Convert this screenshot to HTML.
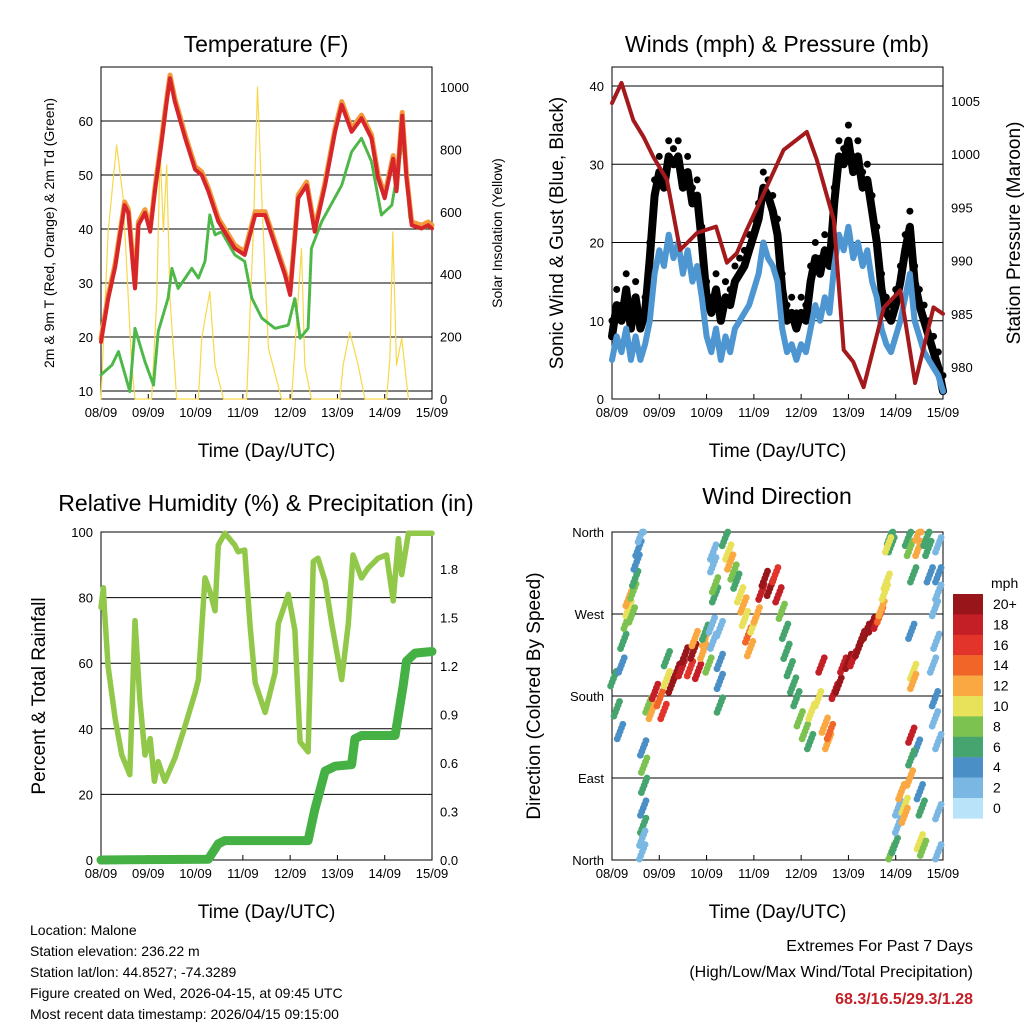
<!DOCTYPE html>
<html><head><meta charset="utf-8"><style>
body{margin:0;background:#fff;}
svg{font-family:"Liberation Sans",sans-serif;}
</style></head><body>
<svg id="s" width="1024" height="1024" viewBox="0 0 1024 1024">
<text x="266" y="52" font-size="23" text-anchor="middle">Temperature (F)</text>
<text x="777" y="52" font-size="23" text-anchor="middle">Winds (mph) &amp; Pressure (mb)</text>
<text x="266" y="511" font-size="23" text-anchor="middle">Relative Humidity (%) &amp; Precipitation (in)</text>
<text x="777" y="504" font-size="23" text-anchor="middle">Wind Direction</text>
<g font-size="14">
<text x="30" y="935">Location: Malone</text>
<text x="30" y="956">Station elevation: 236.22 m</text>
<text x="30" y="977">Station lat/lon: 44.8527; -74.3289</text>
<text x="30" y="998">Figure created on Wed, 2026-04-15, at 09:45 UTC</text>
<text x="30" y="1019">Most recent data timestamp: 2026/04/15 09:15:00</text>
</g>
<g font-size="16" text-anchor="end">
<text x="973" y="951">Extremes For Past 7 Days</text>
<text x="973" y="977">(High/Low/Max Wind/Total Precipitation)</text>
<text x="973" y="1004" fill="#c41e26" font-weight="bold">68.3/16.5/29.3/1.28</text>
</g>
</svg>
<script>
// ---------- data ----------
const dayLabels=["08/09","09/09","10/09","11/09","12/09","13/09","14/09","15/09"];
const tempT=[0,0.15,0.3,0.5,0.58,0.72,0.79,0.93,1.04,1.14,1.28,1.39,1.46,1.56,1.78,1.99,2.13,2.27,2.48,2.83,3.04,3.26,3.47,3.68,3.89,4.0,4.17,4.35,4.52,4.74,4.95,5.09,5.3,5.51,5.72,5.86,6.0,6.18,6.25,6.37,6.46,6.57,6.78,6.92,7.0];
const temp2m=[19.1,27,33,44.4,43,29,40.7,43,39.5,47,56,63.6,67.9,63.6,56.8,51,50,47,41.4,36.4,35.2,42.6,42.6,37,31.5,27.8,45.7,48.1,39.5,48.1,58,63,58,60.5,56.8,49.4,45.7,53,47,61,49.4,40.7,40.1,40.7,40.1];
const dewT=[0,0.23,0.37,0.51,0.61,0.72,0.93,1.11,1.21,1.42,1.5,1.63,1.92,2.06,2.2,2.3,2.41,2.55,2.83,3.04,3.19,3.4,3.68,3.96,4.1,4.21,4.38,4.45,4.67,5.09,5.3,5.51,5.72,5.93,6.15,6.39,6.53,6.71,7.0];
const dew=[13,14.8,17.3,13,9.9,21.6,15.4,11.1,21,27.2,32.7,29,32.7,30.9,34,42.6,38.9,39.5,35.2,34,27.2,23.5,21.6,22.2,27.2,19.8,21.6,36.4,41.4,48.1,54.3,56.8,52.5,42.6,44.4,56.8,42,40.1,40.4];
const solarT=[0,0.15,0.33,0.47,0.65,0.72,1.07,1.18,1.25,1.32,1.39,1.46,1.6,2.06,2.13,2.3,2.41,2.59,3.08,3.22,3.31,3.4,3.54,3.82,4.03,4.17,4.24,4.31,4.45,5.05,5.12,5.26,5.44,5.58,6.04,6.11,6.17,6.25,6.36,6.5];
const solar=[0,536,814,643,108,0,0,322,803,536,750,322,0,0,195,344,108,0,0,536,1000,643,163,0,0,322,482,108,0,0,108,215,108,0,0,130,536,108,195,0];
const windStepDays=0.1;
const wind=[5,8,6,9,5,8,5,7, 10,16,19,17,21,18,20,16,19,15,17,13, 8,6,9,5,8,6,9,10,11,12, 14,16,20,18,17,15,9,6,7,5,7,6, 9,12,10,13,11,17,21,19,22,18,20,17,19,15,13,9,7,6,8,10,13,16,10,8,6,5,4,3,1];
const gust=[8,12,10,14,9,13,9,11, 18,26,29,27,31,30,31,27,29,25,26,20, 13,11,14,10,13,12,15,16,17,19, 21,23,27,26,24,21,14,10,11,9,11,10, 15,18,16,19,17,25,31,30,33,29,31,27,28,24,20,14,11,10,12,15,19,22,15,12,10,8,6,4,1];
const presT=[0,0.2,0.45,0.67,0.88,1.16,1.44,1.8,2.2,2.43,2.64,2.85,3.27,3.63,4.12,4.33,4.69,4.9,5.1,5.32,5.75,6.1,6.41,6.8,7.0];
const pres=[1004.8,1006.7,1003.2,1001.6,999.7,997.6,991,992.6,993.2,989.8,990.7,992.9,996.9,1000.4,1002.1,999.5,993.8,981.6,980.5,978.1,985.6,987.2,978.5,985.6,985];
const rhT=[0,0.05,0.07,0.15,0.3,0.44,0.61,0.72,0.82,0.93,1.04,1.13,1.21,1.35,1.56,1.78,1.99,2.06,2.2,2.3,2.41,2.48,2.62,2.83,2.9,3.04,3.15,3.26,3.47,3.68,3.75,3.96,4.1,4.21,4.38,4.49,4.59,4.74,4.88,5.09,5.23,5.33,5.51,5.65,5.86,6.04,6.18,6.29,6.36,6.5,7.0];
const rh=[77,83,77,59,43,32,26,73,49,32,37,24,30,24,31,41,51,55,86,82,76,96,99.6,96,94,94.5,72,54,45,57,72,81,70,36,33,91,92,85,72,55,72,93,86,89,92,93,79,98,87,99.6,99.6];
const prT=[0,2.27,2.48,2.62,4.38,4.52,4.74,4.95,5.3,5.37,5.51,6.22,6.39,6.46,6.64,7.0];
const precip=[0,0.005,0.1,0.12,0.12,0.31,0.55,0.58,0.59,0.75,0.77,0.77,1.08,1.23,1.28,1.29];
const dirT=[0.03,0.1,0.17,0.2,0.24,0.31,0.35,0.35,0.42,0.45,0.49,0.52,0.56,0.61, 0.66,0.68,0.68,0.66,0.66,0.64,0.64, 0.77,0.84,0.91,1.01,1.09,1.16,1.26,1.37,1.47,1.54,1.65,1.72,1.82,1.93,1.97,1.75,2.04,1.97,1.16, 2.11,2.14,2.18,2.18,2.14,2.14,2.28,2.28,2.28,2.28, 2.39,2.46,2.5,2.57,2.63,2.71,2.78,2.81,2.88,2.92,2.99,3.06, 3.16,3.23,3.34,3.45,3.52,3.59, 3.66,3.69,3.76,3.83,3.9,3.97,4.08,4.19,4.22,4.36,4.43,4.5,4.57,4.61, 4.71,4.79,4.89,5.0,5.1,5.21,5.28,5.38,5.49,5.6,5.67,5.7,5.77,5.81, 5.88,5.91,5.84,5.91,5.98,6.05,6.05,6.12,6.19,6.19, 6.26,6.3,6.48,6.48,6.37,6.33,6.37,6.37,6.33,6.45,6.33,6.3,6.51,6.55,6.51,6.58,6.65,6.69,6.72, 6.83,6.86,6.79,6.83,6.83,6.9,6.9,6.9,6.9,6.9,6.9];
const dirV=[199,166,141,214,240,262,276,287,269,295,309,327,342,357, 123,104,82,57,38,24,9, 170,163,185,177,163,199,192,207,210,225,210,229,207,229,243,243,214,250,221, 258,240,291,302,324,338,218,196,170,254, 353,338,327,316,306,291,280,265,247,232,258,269, 294,309,298,313,291,273, 251,229,210,192,177,155,141,130,163,177,214,148,130,141, 185,192,214,218,221,232,243,251,258,262,269,276,294,306, 355,346,346,9,16,38,57,75,60,49, 353,342,359,342,313,251,207,196,137,124,112,90,75,57,20,13,353,342,313, 276,240,214,177,155,130,53,9,346,313,294];
const dirS=[6,7,4,4,6,8,10,12,8,9,7,5,5,3, 4,8,7,4,7,3,2, 8,12,18,14,16,10,20,20,18,20,16,20,18,12,12,13,8,7,6, 2,3,6,8,3,2,4,4,6,3, 6,10,12,8,6,10,12,10,14,13,10,12, 18,20,20,16,18,8, 6,6,6,6,6,8,8,6,10,10,18,12,12,14, 18,20,18,20,19,20,20,20,20,18,14,12,10,10, 6,6,10,8,6,3,3,12,11,12, 6,8,12,12,6,4,10,12,18,4,6,13,4,6,10,8,6,6,4, 3,2,2,4,3,2,2,2,2,4,2];
const cbLabels=["20+","18","16","14","12","10","8","6","4","2","0"];
const cbColors=["#98161a","#c41e26","#e2342a","#f26529","#f9a842","#e8e15a","#7bc250","#46a56e","#4a8fc6","#7ab7e3","#b8e3f8"];
// ---------- helpers ----------
const NS="http://www.w3.org/2000/svg",S=document.getElementById('s');
function mk(tag,at,parent,txt){const e=document.createElementNS(NS,tag);for(const k in at)e.setAttribute(k,at[k]);if(txt!==undefined)e.textContent=txt;(parent||S).appendChild(e);return e;}
function lin(d0,d1,r0,r1){return v=>r0+(v-d0)*(r1-r0)/(d1-d0);}
function panel(name,x0,x1,y0,y1,titleOff){
 const g=mk('g',{});
 
 
 const fx=lin(0,7,x0,x1);
 const a=mk('rect',{x:x0,y:y0,width:x1-x0,height:y1-y0,fill:'none',stroke:'#000','stroke-width':1},g);
 
 
 dayLabels.forEach((l,i)=>{
  const t=mk('text',{x:fx(i),y:y1+18,'font-size':13,'text-anchor':'middle'},g,l);
  
  
  mk('line',{x1:fx(i),x2:fx(i),y1:y1,y2:y1-5,stroke:'#000'},g);
 });
 const xt=mk('text',{x:(x0+x1)/2,y:y1+titleOff,'font-size':19,'text-anchor':'middle'},g,'Time (Day/UTC)');
 
 
 return {g,fx};
}
function yAxis(g,vals,labels,fy,x0,x1,side,grid){
 vals.forEach((v,i)=>{
  const y=fy(v);
  if(grid){const l=mk('line',{x1:x0,x2:x1,y1:y,y2:y,stroke:'#000','stroke-width':1},g);
   
   }
  const xx=side=='l'?x0-8:x1+8;
  const t=mk('text',{x:xx,y:y+5,'font-size':13,'text-anchor':side=='l'?'end':'start'},g,labels[i]);
  
  
 });
}
function vtitle(g,x,y,txt,fs,name){const t=mk('text',{x:x,y:y,'font-size':fs,'text-anchor':'middle',transform:`rotate(-90 ${x} ${y})`},g,txt);
 
 }
function line(g,T,V,fx,fy,col,w,name,dash){
 const d=T.map((t,i)=>(i?'L':'M')+fx(t).toFixed(1)+' '+fy(V[i]).toFixed(1)).join('');
 const p=mk('path',{d:d,fill:'none',stroke:col,'stroke-width':w,'stroke-linejoin':'round','stroke-linecap':'round'},g);
 if(dash)p.setAttribute('stroke-dasharray',dash);
 
 
 return p;
}
// ---------- Panel 1: temperature ----------
{
 const {g,fx}=panel('temperature-panel',101,432,67,399,58);
 const fy=lin(10,60,391,121), fs=lin(0,1000,399,87);
 yAxis(g,[10,20,30,40,50,60],['10','20','30','40','50','60'],fy,101,432,'l',true);
 yAxis(g,[0,200,400,600,800,1000],['0','200','400','600','800','1000'],fs,101,432,'r',false);
 line(g,solarT,solar,fx,fs,'#f7d84a',1.2,'solar-insolation-line');
 line(g,dewT,dew,fx,fy,'#4db848',3,'dewpoint-line','2 1.5');
 line(g,tempT,temp2m.map(v=>v+0.6),fx,fy,'#f39a3a',5,'temp-9m-line');
 line(g,tempT,temp2m,fx,fy,'#d6262b',4,'temp-2m-line');
 vtitle(g,54,233,'2m & 9m T (Red, Orange) & 2m Td (Green)',14,'left-axis-title');
 vtitle(g,502,233,'Solar Insolation (Yellow)',14,'right-axis-title');
}
// ---------- Panel 2: winds ----------
{
 const {g,fx}=panel('winds-panel',612,943,67,399,58);
 const fy=lin(0,40,399,86), fp=lin(980,1005,367,101);
 yAxis(g,[0,10,20,30,40],['0','10','20','30','40'],fy,612,943,'l',true);
 yAxis(g,[980,985,990,995,1000,1005],['980','985','990','995','1000','1005'],fp,612,943,'r',false);
 const wT=wind.map((v,i)=>i*windStepDays);
 line(g,wT,gust,fx,fy,'#000',8,'gust-series');
 gust.forEach((v,i)=>{
  const c=mk('circle',{cx:fx(i*windStepDays),cy:fy(v+2),r:3.5,fill:'#000'},g);
  
  
 });
 line(g,wT,wind,fx,fy,'#4d96d2',6,'wind-speed-series');
 line(g,presT,pres,fx,fp,'#a3191c',4,'pressure-line');
 vtitle(g,563,233,'Sonic Wind & Gust (Blue, Black)',19,'left-axis-title');
 vtitle(g,1020,233,'Station Pressure (Maroon)',19,'right-axis-title');
}
// ---------- Panel 3: humidity ----------
{
 const {g,fx}=panel('humidity-panel',101,432,532,860,58);
 const fy=lin(0,100,860,532), fr=lin(0,1.8,860,569);
 yAxis(g,[0,20,40,60,80,100],['0','20','40','60','80','100'],fy,101,432,'l',true);
 yAxis(g,[0,0.3,0.6,0.9,1.2,1.5,1.8],['0.0','0.3','0.6','0.9','1.2','1.5','1.8'],fr,101,432,'r',false);
 line(g,rhT,rh,fx,fy,'#92c84a',5.5,'humidity-line');
 line(g,prT,precip,fx,fr,'#45b044',9,'precip-line');
 vtitle(g,45,696,'Percent & Total Rainfall',19,'left-axis-title');
}
// ---------- Panel 4: wind direction ----------
{
 const {g,fx}=panel('wind-direction-panel',612,943,532,860,58);
 const fy=lin(0,360,860,532);
 yAxis(g,[0,90,180,270,360],['North','East','South','West','North'],fy,612,943,'l',true);
 vtitle(g,540,696,'Direction (Colored By Speed)',19,'left-axis-title');
 dirT.forEach((t,i)=>{
  const ci=Math.max(0,Math.min(10,10-Math.floor(dirS[i]/2)));
  [-8,-4,0,4,8].forEach(o=>{
   const c=mk('circle',{cx:fx(t)+o*0.35,cy:fy(Math.min(360,Math.max(0,dirV[i]+o))),r:3.4,fill:cbColors[ci]},g);
   
   
  });
 });
 const cb=mk('g',{},S);
 
 
 const t0=mk('text',{x:991,y:588,'font-size':14},cb,'mph');
 
 
 cbColors.forEach((c,i)=>{
  const r=mk('rect',{x:953,y:594+i*20.4,width:30,height:20.6,fill:c},cb);
  
  
  const t=mk('text',{x:993,y:609+i*20.4,'font-size':14},cb,cbLabels[i]);
  
  
 });
}
</script>
</body></html>
